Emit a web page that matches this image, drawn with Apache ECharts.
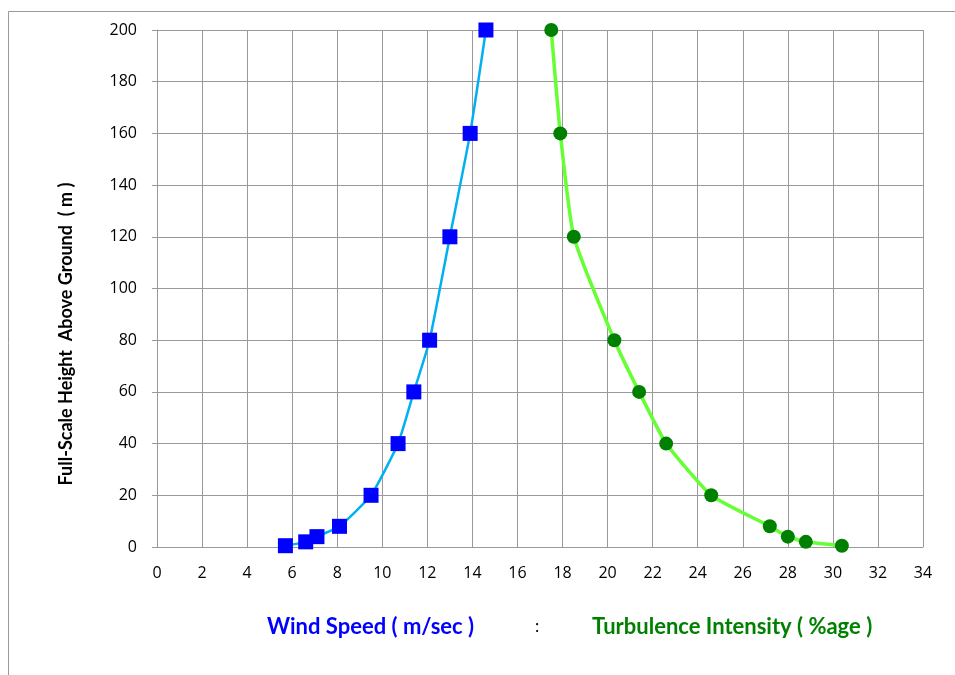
<!DOCTYPE html>
<html><head><meta charset="utf-8">
<script src="https://cdn.jsdelivr.net/npm/echarts@6/dist/echarts.min.js"></script>
<style>html,body{margin:0;padding:0;background:#fff}#c{width:955px;height:675px}</style>
</head><body><div id="c"></div>
<script>
const heights = [0.5, 2, 4, 8, 20, 40, 60, 80, 120, 160, 200];
const windSpeed = [5.7, 6.6, 7.1, 8.1, 9.5, 10.7, 11.4, 12.1, 13.0, 13.9, 14.6];
const turbHeights = [0.5, 2, 4, 8, 20, 40, 60, 80, 120, 160, 200];
const turbulence = [30.4, 28.8, 28.0, 27.2, 24.6, 22.6, 21.4, 20.3, 18.5, 17.9, 17.5];
const yAxisTitle = 'Full-Scale Height  Above Ground  ( m )';
const xTitleWind = 'Wind Speed ( m/sec )';
const xTitleTurb = 'Turbulence Intensity ( %age )';

const chart = echarts.init(document.getElementById('c'));
const font = 'Lato, "Open Sans", sans-serif';
const tickFont = '"Open Sans", Lato, sans-serif';
chart.setOption({
  animation: false,
  grid: {left: 157, right: 32, top: 30, bottom: 128},
  xAxis: {
    type: 'value', min: 0, max: 34, interval: 2,
    axisLine: {show: true, onZero: false, lineStyle: {color: '#999'}},
    axisTick: {show: false},
    axisLabel: {color: '#000', fontSize: 16, fontFamily: tickFont, margin: 18},
    splitLine: {show: true, lineStyle: {color: '#999', width: 1}}
  },
  yAxis: {
    type: 'value', min: 0, max: 200, interval: 20,
    axisLine: {show: true, lineStyle: {color: '#999'}},
    axisTick: {show: true, length: 5, lineStyle: {color: '#999'}},
    axisLabel: {color: '#000', fontSize: 16, fontFamily: tickFont, margin: 20},
    splitLine: {show: true, lineStyle: {color: '#999', width: 1}}
  },
  series: [
    {
      type: 'line', smooth: 0.15,
      data: windSpeed.map((v, i) => [v, heights[i]]),
      symbol: 'rect', symbolSize: 15,
      lineStyle: {color: '#00b0f0', width: 2.5},
      itemStyle: {color: '#0000ff'}
    },
    {
      type: 'line', smooth: 0.15,
      data: turbulence.map((v, i) => [v, turbHeights[i]]),
      symbol: 'circle', symbolSize: 14,
      lineStyle: {color: '#66ff33', width: 3.5},
      itemStyle: {color: '#008000'}
    }
  ],
  graphic: [
    {type: 'rect', x: 8.5, y: 11.5, z: -1, silent: true,
     shape: {width: 1100, height: 800},
     style: {fill: 'none', stroke: '#999', lineWidth: 1}},
    {type: 'text', x: 66, y: 334, rotation: Math.PI / 2,
     style: {text: yAxisTitle, fill: '#000', font: 'bold 18px ' + font,
             textAlign: 'center', textVerticalAlign: 'middle'}},
    {type: 'text', x: 267, y: 627,
     style: {text: xTitleWind, fill: '#0000ff', font: 'bold 22px ' + font,
             textVerticalAlign: 'middle'}},
    {type: 'text', x: 535, y: 627,
     style: {text: ':', fill: '#000', font: '17px ' + font, textVerticalAlign: 'middle'}},
    {type: 'text', x: 592, y: 627,
     style: {text: xTitleTurb, fill: '#008000', font: 'bold 22px ' + font,
             textVerticalAlign: 'middle'}}
  ]
});
</script></body></html>
